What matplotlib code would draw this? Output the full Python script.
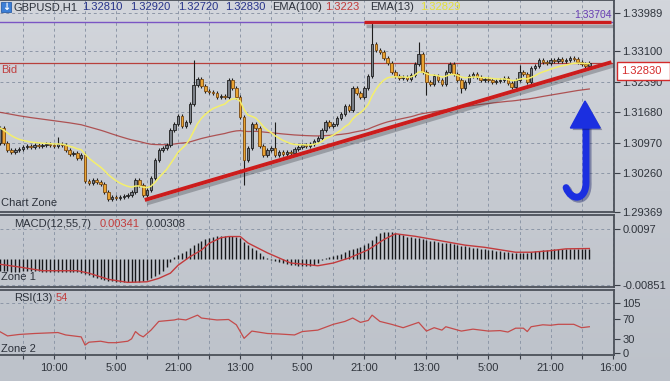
import numpy as np
import pandas as pd
import matplotlib
matplotlib.use('Agg')
import matplotlib.pyplot as plt
import matplotlib.patheffects as pe
from matplotlib.colors import LinearSegmentedColormap
from matplotlib.patches import Rectangle, Polygon, PathPatch
from matplotlib.path import Path

plt.rcParams['font.family'] = ['Liberation Sans', 'DejaVu Sans']

# --- data (GBPUSD H1) ---
first_open = 1.3097
closes = [
    1.3132, 1.3097, 1.3080, 1.3076, 1.3080, 1.3083, 1.3087, 1.3090, 1.3087, 1.3092,
    1.3090, 1.3092, 1.3094, 1.3092, 1.3090, 1.3094, 1.3092, 1.3080, 1.3071, 1.3073,
    1.3062, 1.3069, 1.3008, 1.3004, 1.3011, 1.3006, 1.3001, 1.2983, 1.2966, 1.2971,
    1.2969, 1.2971, 1.2973, 1.2976, 1.2983, 1.3011, 1.2999, 1.2976, 1.2987, 1.3015,
    1.3057, 1.3080, 1.3085, 1.3092, 1.3127, 1.3141, 1.3160, 1.3136, 1.3146, 1.3188,
    1.3232, 1.3246, 1.3230, 1.3218, 1.3216, 1.3213, 1.3204, 1.3206, 1.3204, 1.3244,
    1.3225, 1.3204, 1.3157, 1.3057, 1.3085, 1.3141, 1.3132, 1.3090, 1.3069, 1.3080,
    1.3085, 1.3069, 1.3076, 1.3071, 1.3076, 1.3073, 1.3083, 1.3087, 1.3092, 1.3090,
    1.3094, 1.3101, 1.3108, 1.3127, 1.3146, 1.3136, 1.3141, 1.3155, 1.3164, 1.3183,
    1.3174, 1.3225, 1.3213, 1.3204, 1.3225, 1.3253, 1.3327, 1.3313, 1.3309, 1.3295,
    1.3283, 1.3262, 1.3253, 1.3248, 1.3250, 1.3246, 1.3255, 1.3281, 1.3305, 1.3262,
    1.3239, 1.3234, 1.3253, 1.3244, 1.3234, 1.3262, 1.3281, 1.3257, 1.3244, 1.3225,
    1.3239, 1.3253, 1.3257, 1.3250, 1.3244, 1.3246, 1.3244, 1.3239, 1.3241, 1.3244,
    1.3248, 1.3237, 1.3227, 1.3244, 1.3262, 1.3257, 1.3239, 1.3272, 1.3276, 1.3290,
    1.3285, 1.3283, 1.3290, 1.3288, 1.3292, 1.3288, 1.3290, 1.3295, 1.3292, 1.3285,
    1.3281, 1.3276, 1.3283,
]
wick = 0.00045
high_spikes = {15: 1.3111, 50: 1.3290, 71: 1.3146, 96: 1.3378, 108: 1.3332, 134: 1.3278}
low_spikes = {28: 1.2961, 63: 1.2999, 110: 1.3209, 119: 1.3213}
ema100_start = 1.3169
bid = 1.32830
top_line = 1.3378
trend_x = [37.4, 157.7]
trend_y = [1.2964, 1.3285]
resist_from = 94

macd = [
    -0.0039, -0.0039, -0.0040, -0.0041, -0.0041, -0.0041, -0.0040, -0.0040, -0.0040, -0.0040,
    -0.0040, -0.0041, -0.0041, -0.0041, -0.0041, -0.0041, -0.0041, -0.0041, -0.0042, -0.0042,
    -0.0043, -0.0044, -0.0048, -0.0053, -0.0057, -0.0061, -0.0064, -0.0067, -0.0070, -0.0072,
    -0.0074, -0.0075, -0.0076, -0.0076, -0.0076, -0.0075, -0.0074, -0.0071, -0.0067, -0.0061,
    -0.0055, -0.0048, -0.0040, -0.0026, -0.0010, 0.0005, 0.0013, 0.0018, 0.0026, 0.0036,
    0.0045, 0.0053, 0.0059, 0.0064, 0.0068, 0.0072, 0.0074, 0.0075, 0.0075, 0.0075,
    0.0074, 0.0073, 0.0068, 0.0055, 0.0045, 0.0036, 0.0028, 0.0019, 0.0010, 0.0004,
    -0.0002, -0.0008, -0.0011, -0.0014, -0.0017, -0.0019, -0.0021, -0.0022, -0.0022, -0.0022,
    -0.0022, -0.0020, -0.0012, -0.0002, 0.0004, 0.0008, 0.0010, 0.0013, 0.0017, 0.0022,
    0.0028, 0.0033, 0.0037, 0.0040, 0.0045, 0.0052, 0.0062, 0.0075, 0.0083, 0.0087,
    0.0088, 0.0087, 0.0084, 0.0080, 0.0077, 0.0073, 0.0071, 0.0069, 0.0068, 0.0066,
    0.0063, 0.0060, 0.0058, 0.0055, 0.0053, 0.0052, 0.0051, 0.0049, 0.0046, 0.0043,
    0.0041, 0.0039, 0.0037, 0.0035, 0.0034, 0.0032, 0.0030, 0.0028, 0.0026, 0.0025,
    0.0024, 0.0022, 0.0020, 0.0020, 0.0020, 0.0020, 0.0020, 0.0022, 0.0025, 0.0027,
    0.0029, 0.0030, 0.0031, 0.0032, 0.0033, 0.0033, 0.0033, 0.0033, 0.0033, 0.0033,
    0.0033, 0.0033, 0.0034,
]
signal_x = [0, 5, 11, 20, 23, 28, 33, 38, 41, 44, 46, 49, 52, 54, 57, 59, 62, 64, 69, 75,
            80, 82, 86, 90, 95, 99, 102, 107, 112, 116, 120, 125, 129, 133, 137, 142, 146, 152]
signal_v = [-0.0017, -0.0026, -0.0038, -0.0038, -0.0046, -0.0066, -0.0076, -0.0074, -0.0063,
            -0.0046, -0.0020, 0.0007, 0.0029, 0.0051, 0.0069, 0.0073, 0.0073, 0.0052, 0.0020,
            -0.0013, -0.0019, -0.0022, -0.0013, 0.0003, 0.0030, 0.0063, 0.0082, 0.0074, 0.0063,
            0.0054, 0.0045, 0.0038, 0.0030, 0.0022, 0.0022, 0.0027, 0.0033, 0.0034]

rsi_x = [0, 2, 5, 9, 15, 17, 21, 22, 23, 26, 28, 30, 33, 34, 35, 36, 37, 39, 41, 45, 46, 48,
         51, 52, 56, 59, 61, 63, 65, 69, 72, 76, 78, 82, 86, 89, 91, 93, 95, 96, 98, 101, 104,
         108, 110, 112, 114, 115, 119, 122, 126, 129, 131, 133, 135, 136, 137, 140, 142, 144,
         146, 148, 150, 152]
rsi_v = [45, 36, 39, 41, 43, 38, 34, 17, 23, 25, 22, 22, 25, 30, 45, 38, 34, 48, 66, 69, 71, 69,
         79, 73, 69, 70, 59, 31, 46, 41, 40, 38, 45, 48, 60, 66, 73, 64, 68, 79, 66, 60, 53,
         64, 46, 53, 48, 55, 46, 50, 46, 47, 44, 52, 52, 45, 55, 59, 58, 60, 60, 60, 53, 55]

price_ticks = [1.33989, 1.33100, 1.32390, 1.31680, 1.30970, 1.30260, 1.29369]
macd_ticks = [0.0097, -0.00851]
rsi_ticks = [105, 70, 30, 0]
time_labels = ['10:00', '5:00', '21:00', '13:00', '5:00', '21:00', '13:00', '5:00', '21:00', '16:00']

# --- derived series ---
n = len(closes)
x = np.arange(n)
c = np.array(closes)
o = np.concatenate([[first_open], c[:-1]])
hi = np.maximum(o, c) + wick
lo = np.minimum(o, c) - wick
for i, v in high_spikes.items():
    hi[i] = v
for i, v in low_spikes.items():
    lo[i] = v
ema13 = pd.Series(c).ewm(span=13, adjust=False).mean().values
ema100 = []
e = ema100_start
for v in c:
    e = e + 2.0 / 101 * (v - e)
    ema100.append(e)

# --- figure ---
W, H = 670, 381
fig = plt.figure(figsize=(W / 100, H / 100), dpi=100)


def box(x0, y0, x1, y1):
    return [x0 / W, 1 - y1 / H, (x1 - x0) / W, (y1 - y0) / H]


def px(xp, yp):
    return xp / W, 1 - yp / H


bg = fig.add_axes([0, 0, 1, 1], zorder=-10)
grad = np.linspace(0, 1, 256).reshape(-1, 1)
cmap = LinearSegmentedColormap.from_list('bg', ['#d3d6dc', '#c6cad1', '#bdc2ca'])
bg.imshow(grad, aspect='auto', cmap=cmap, extent=[0, 1, 0, 1], origin='upper')
bg.axis('off')

ax = fig.add_axes(box(0, 0, 614, 212))
ax_m = fig.add_axes(box(0, 215, 614, 287), sharex=ax)
ax_r = fig.add_axes(box(0, 290, 614, 355), sharex=ax)

fs = 8
grid_kw = dict(color='#8d97a7', lw=0.7, ls=(0, (3, 3)))
xt = [6 + 8 * k for k in range(20)]
for a in (ax, ax_m, ax_r):
    a.set_facecolor('none')
    a.set_xticks(xt)
    a.xaxis.grid(True, **grid_kw)
    a.set_axisbelow(True)
    a.yaxis.tick_right()
    a.tick_params(axis='y', length=4, width=0.8, color='#3a3f48', labelsize=fs,
                  labelcolor='#2f343c', pad=2)
    a.tick_params(axis='x', length=0, labelbottom=False)
    a.spines['left'].set_visible(False)
    for s in ('right', 'top', 'bottom'):
        a.spines[s].set_color('#4b5059')
        a.spines[s].set_linewidth(1.3)
ax.set_xlim(0.07, 158.36)

# main price panel
ax.set_ylim(1.29360, 1.34299)
ax.set_yticks(price_ticks)
ax.set_yticklabels([f'{p:.5f}' for p in price_ticks])
ax.yaxis.grid(True, **grid_kw)

ax.axhline(top_line, color='#7b55c4', lw=1.0, zorder=1)
ax.axhline(bid, color='#b8403c', lw=0.9, zorder=1)
ax.plot(x, ema100, color='#a83c3c', lw=0.9, alpha=0.85, zorder=2)

up = c >= o
ax.vlines(x, lo, hi, color='#1c1c1c', lw=0.8, zorder=3)
body_h = np.maximum(np.abs(c - o), 0.00008)
ax.bar(x[up], body_h[up], bottom=np.minimum(o, c)[up], width=0.65,
       color='#7b8088', edgecolor='#1e1e1e', lw=0.6, zorder=4)
ax.bar(x[~up], body_h[~up], bottom=np.minimum(o, c)[~up], width=0.65,
       color='#e9a332', edgecolor='#7a4a12', lw=0.6, zorder=4)
ax.plot(x, ema13, color='#f4ef6c', lw=1.1, zorder=5)

shadow = [pe.SimpleLineShadow(offset=(1.5, -2.5), shadow_color='#2d3138', alpha=0.3), pe.Normal()]
ax.plot(trend_x, trend_y, color='#cc1c1c', lw=2.8, solid_capstyle='butt', zorder=6,
        path_effects=shadow)
ax.plot([resist_from, 157.6], [top_line, top_line], color='#cc1c1c', lw=2.4,
        solid_capstyle='butt', zorder=6, path_effects=shadow)

# blue J arrow (axes fraction coords)
verts = [(0.9544, 0.406), (0.9544, 0.151), (0.956, 0.050), (0.930, 0.050), (0.922, 0.115)]
codes = [Path.MOVETO, Path.LINETO, Path.CURVE4, Path.CURVE4, Path.CURVE4]
shaft = PathPatch(Path(verts, codes), transform=ax.transAxes, fill=False, ec='#1b2fe0',
                  lw=5, capstyle='round', zorder=7,
                  path_effects=[pe.SimpleLineShadow(offset=(1.5, -1.5), shadow_color='#101860',
                                                    alpha=0.4), pe.Normal()])
ax.add_patch(shaft)
head = Polygon([(0.9528, 0.5236), (0.929, 0.3962), (0.9775, 0.3962)], closed=True,
               transform=ax.transAxes, fc='#1b2fe0', ec='#1b2fe0', zorder=7,
               path_effects=[pe.SimplePatchShadow(offset=(1.5, -1.5), alpha=0.35), pe.Normal()])
ax.add_patch(head)

# MACD panel
ax_m.set_ylim(-0.0091, 0.0143)
ax_m.vlines(x, 0, macd, color='#16181b', lw=1.0, zorder=3)
ax_m.plot(signal_x, signal_v, color='#c23a3c', lw=1.0, zorder=4)
ax_m.set_yticks(macd_ticks)
ax_m.set_yticklabels(['0.0097', '-0.00851'])
ax_m.yaxis.grid(True, **grid_kw)

# RSI panel
ax_r.set_ylim(-3.5, 131)
ax_r.plot(rsi_x, rsi_v, color='#c44b4b', lw=0.9, zorder=3)
ax_r.set_yticks(rsi_ticks)
ax_r.axhline(105, **grid_kw)
ax_r.set_xticklabels(['' if k % 2 == 0 else time_labels[k // 2] for k in range(20)])
ax_r.tick_params(axis='x', length=3, width=0.8, color='#3a3f48', labelbottom=True,
                 labelsize=fs, labelcolor='#2f343c', pad=3)

# header texts
dark = '#2c313a'
navy = '#27338a'
icon = Rectangle(px(1, 12), 10 / W, 10 / H, transform=fig.transFigure, fc='#3d7fd6',
                 ec='#2a5ea8', lw=0.6)
fig.add_artist(icon)
fig.text(*px(6, 7), '\u2193', color='white', fontsize=7, fontweight='bold',
         ha='center', va='center', family='DejaVu Sans')
header = [(14, 'GBPUSD,H1', dark), (82, '1.32810', navy), (130, '1.32920', navy),
          (178, '1.32720', navy), (225, '1.32830', navy), (272, 'EMA(100)', dark),
          (325, '1.3223', '#c23b3b'), (370, 'EMA(13)', dark), (420, '1.32829', '#e4e03a')]
for xp, t, col in header:
    fig.text(*px(xp, 7), t, color=col, fontsize=fs, ha='left', va='center')

fig.text(*px(612, 15), '1.33704', color='#6a3fb5', fontsize=7.5, ha='right', va='center')
fig.text(*px(1, 70), 'Bid', color='#c04040', fontsize=fs, ha='left', va='center')
fig.text(*px(1, 203), 'Chart Zone', color=dark, fontsize=fs, ha='left', va='center')

fig.text(*px(14, 224), 'MACD(12,55,7)', color=dark, fontsize=fs, ha='left', va='center')
fig.text(*px(100, 224), '0.00341', color='#c23b3b', fontsize=fs, ha='left', va='center')
fig.text(*px(146, 224), '0.00308', color=dark, fontsize=fs, ha='left', va='center')
fig.text(*px(1, 277), 'Zone 1', color=dark, fontsize=fs, ha='left', va='center')

fig.text(*px(14, 298), 'RSI(13)', color=dark, fontsize=fs, ha='left', va='center')
fig.text(*px(56, 298), '54', color='#c23b3b', fontsize=fs, ha='left', va='center')
fig.text(*px(1, 349), 'Zone 2', color=dark, fontsize=fs, ha='left', va='center')

# current price box on the axis
pbox = Rectangle(px(617, 80), 53 / W, 18 / H, transform=fig.transFigure, fc='white',
                 ec='#d42a2a', lw=1.0, zorder=10)
fig.add_artist(pbox)
fig.text(*px(621, 71), '1.32830', color='#d42a2a', fontsize=fs, ha='left', va='center',
         zorder=11)

fig.savefig('out.png', dpi=100)
